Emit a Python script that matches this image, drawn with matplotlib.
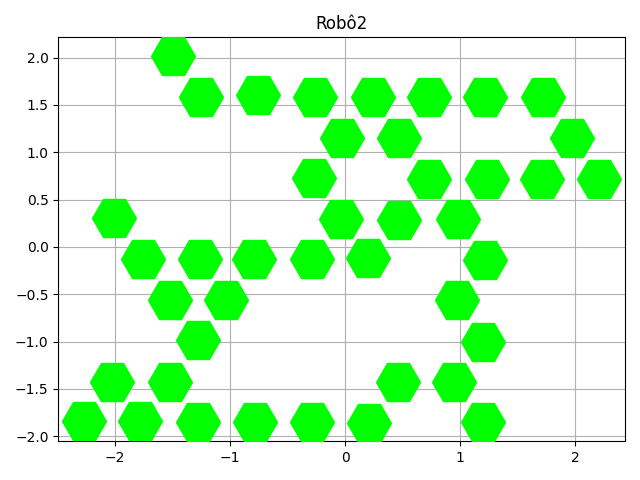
import matplotlib
matplotlib.use("Agg")
import matplotlib.pyplot as plt

# hexagon centres
xs = [-1.50,
      -1.25, -0.76, -0.26, 0.24, 0.73, 1.22, 1.72,
      -0.03, 0.47, 1.97,
      -0.27, 0.73, 1.23, 1.71, 2.21,
      -2.01, -0.04, 0.47, 0.98,
      -1.76, -1.26, -0.79, -0.29, 0.20, 1.22,
      -1.52, -1.04, 0.97,
      -1.28, 1.20,
      -2.03, -1.52, 0.46, 0.95,
      -2.27, -1.78, -1.28, -0.78, -0.29, 0.21, 1.20]
ys = [2.02,
      1.58, 1.60, 1.58, 1.58, 1.58, 1.58, 1.58,
      1.15, 1.15, 1.15,
      0.73, 0.72, 0.72, 0.72, 0.72,
      0.30, 0.29, 0.28, 0.29,
      -0.13, -0.13, -0.13, -0.13, -0.12, -0.14,
      -0.56, -0.56, -0.56,
      -0.98, -1.00,
      -1.43, -1.43, -1.43, -1.43,
      -1.84, -1.84, -1.85, -1.85, -1.85, -1.86, -1.85]

fig, ax = plt.subplots(figsize=(6.4, 4.8), dpi=100)
ax.scatter(xs, ys, s=1000, marker='H', color='lime', zorder=3)
ax.grid(True)
ax.set_title('Robô2')
fig.tight_layout()
fig.savefig('out.png')
